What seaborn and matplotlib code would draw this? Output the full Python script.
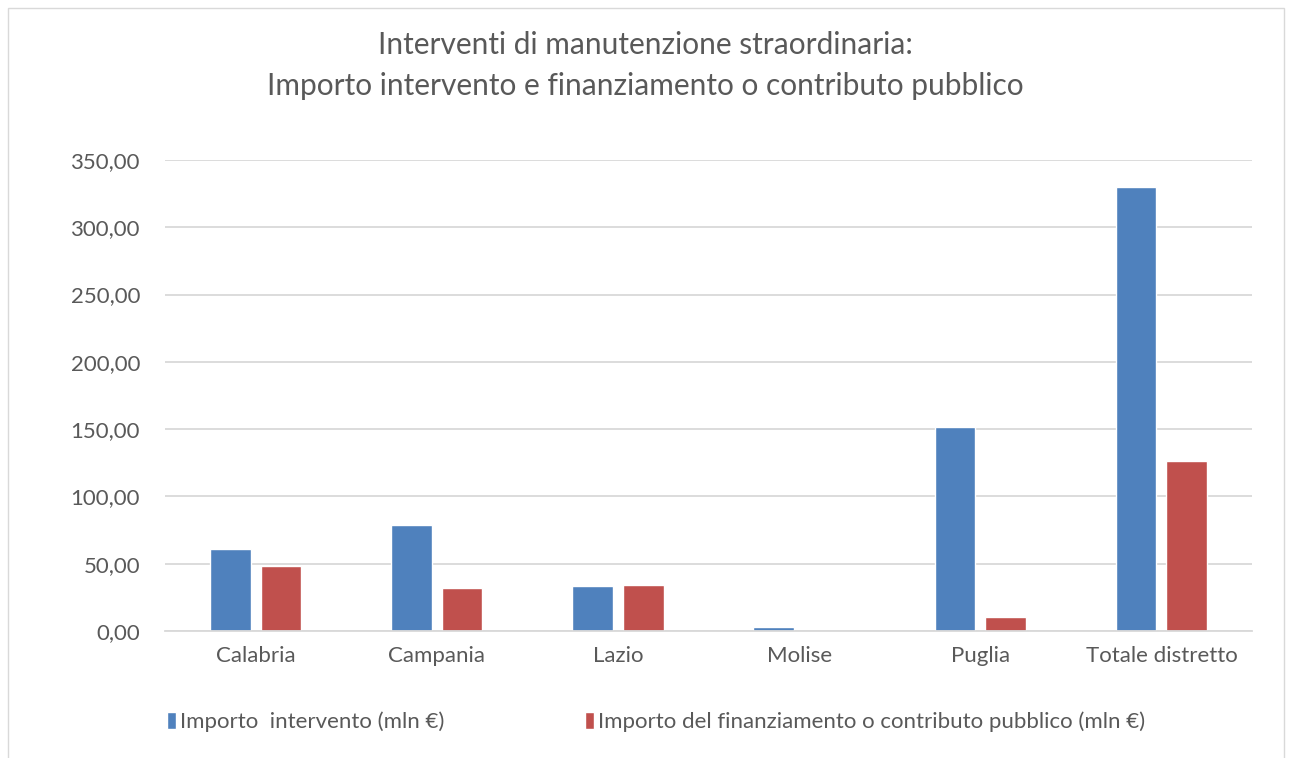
import pandas as pd
import seaborn as sns
from matplotlib import pyplot as plt
from matplotlib.ticker import FuncFormatter, MultipleLocator
from matplotlib.patches import Rectangle

# Data (mln €)
regioni = ['Calabria', 'Campania', 'Lazio', 'Molise', 'Puglia', 'Totale distretto']
importo_intervento = [61.0, 78.8, 33.4, 2.8, 151.6, 329.7]
importo_finanziamento = [48.5, 32.2, 34.0, 0.0, 10.4, 126.3]
serie = ['Importo  intervento (mln €)',
         'Importo del finanziamento o contributo pubblico (mln €)']

df = pd.DataFrame({
    'regione': regioni * 2,
    'valore': importo_intervento + importo_finanziamento,
    'serie': [serie[0]] * len(regioni) + [serie[1]] * len(regioni),
})

sns.set_style('white')
plt.rcParams['font.family'] = ['Lato', 'DejaVu Sans']
text_color = '#595959'

fig = plt.figure(figsize=(12.9, 7.58), dpi=100)
ax = fig.add_axes([165 / 1290, 1 - 631 / 758, (1252 - 165) / 1290, (631 - 160) / 758])

sns.barplot(data=df, x='regione', y='valore', hue='serie',
            palette=['#4F81BD', '#C0504D'], width=0.56, gap=0.2,
            ax=ax, legend=True, saturation=1)

ax.set_ylim(0, 350)
ax.set_xlim(-0.5, len(regioni) - 0.5)
ax.yaxis.set_major_locator(MultipleLocator(50))
ax.yaxis.set_major_formatter(FuncFormatter(lambda v, p: f'{v:.2f}'.replace('.', ',')))
ax.grid(axis='y', color='#D9D9D9', linewidth=1.3)
ax.set_axisbelow(True)
for s in ['top', 'right', 'left']:
    ax.spines[s].set_visible(False)
ax.spines['bottom'].set_color('#D9D9D9')
ax.spines['bottom'].set_linewidth(1.3)
ax.tick_params(axis='both', length=0, labelsize=16, labelcolor=text_color)
ax.tick_params(axis='x', pad=11)
ax.tick_params(axis='y', pad=18)
ax.set_xlabel('')
ax.set_ylabel('')

# legend at the bottom
handles, labels = ax.get_legend_handles_labels()
ax.get_legend().remove()
fig.legend(handles, labels, loc='center left', bbox_to_anchor=(147 / 1290, 1 - 722 / 758),
           ncol=2, frameon=False, fontsize=16, labelcolor=text_color,
           handlelength=0.4, handleheight=0.8, handletextpad=0.2, columnspacing=6.3)

fig.text(0.5, 1 - 45 / 758, 'Interventi di manutenzione straordinaria:',
         ha='center', va='center', fontsize=21.5, color=text_color)
fig.text(0.5, 1 - 86 / 758, 'Importo intervento e finanziamento o contributo pubblico',
         ha='center', va='center', fontsize=21.5, color=text_color)

# chart area border
fig.patches.append(Rectangle((8 / 1290, -0.01), 1276 / 1290, 1.0, transform=fig.transFigure,
                             fill=False, edgecolor='#D9D9D9', linewidth=1))

plt.savefig('out.png', dpi=100)
